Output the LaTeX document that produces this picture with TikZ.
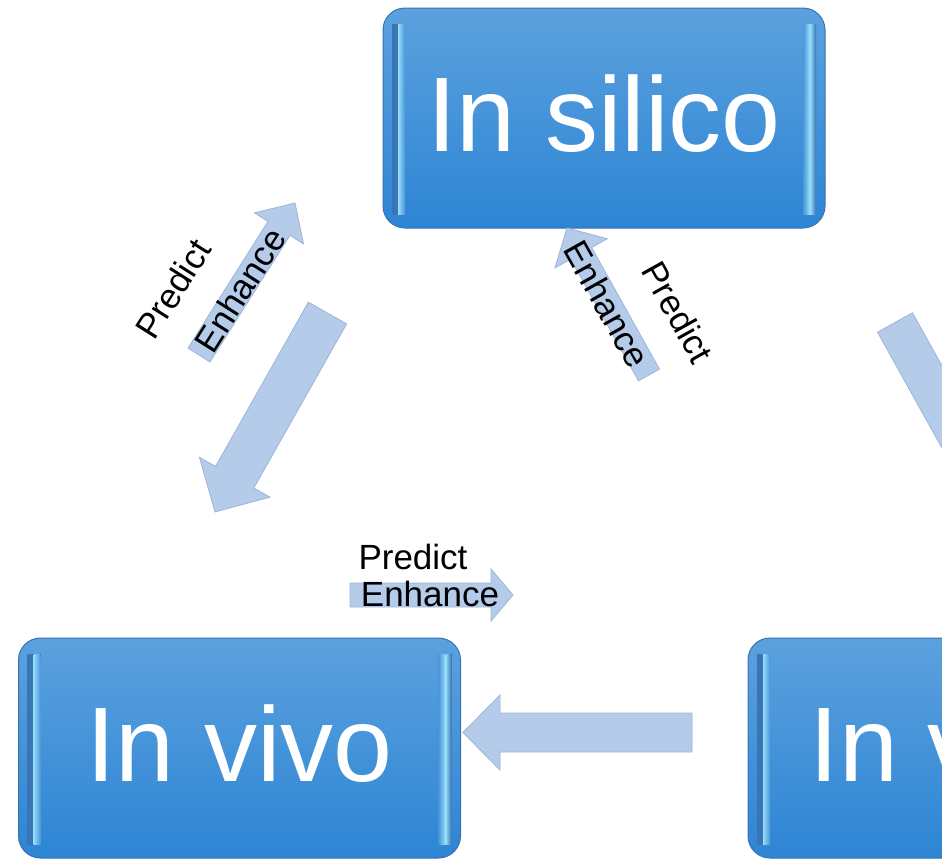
\documentclass[tikz,border=0pt]{standalone}
\usepackage{fontspec}
\setmainfont{Liberation Sans}
\usetikzlibrary{calc}

\definecolor{stagetop}{RGB}{92,161,222}
\definecolor{stagebottom}{RGB}{45,133,212}
\definecolor{stageedge}{RGB}{55,115,180}
\definecolor{stageglow}{RGB}{150,222,250}
\definecolor{arrowfill}{RGB}{180,203,234}
\definecolor{arrowedge}{RGB}{158,181,216}

\tikzset{
  stage/.style={draw=stageedge, line width=1pt, rounded corners=22pt,
    top color=stagetop, bottom color=stagebottom,
    minimum width=442pt, minimum height=220pt, text=white,
    font=\fontsize{106}{116}\selectfont, text height=76pt, text depth=9pt,
    path picture={
      \fill[sharp corners, left color=stageedge, right color=stageglow]
        ([xshift=9pt,yshift=-16pt]path picture bounding box.north west)
        rectangle ([xshift=15pt,yshift=14pt]path picture bounding box.south west);
      \fill[sharp corners, left color=stageglow, right color=stagetop!60!stagebottom]
        ([xshift=15pt,yshift=-16pt]path picture bounding box.north west)
        rectangle ([xshift=22pt,yshift=14pt]path picture bounding box.south west);
      \fill[sharp corners, left color=stagetop!60!stagebottom, right color=stageglow]
        ([xshift=-22pt,yshift=-16pt]path picture bounding box.north east)
        rectangle ([xshift=-15pt,yshift=14pt]path picture bounding box.south east);
      \fill[sharp corners, left color=stageglow, right color=stageedge]
        ([xshift=-15pt,yshift=-16pt]path picture bounding box.north east)
        rectangle ([xshift=-9pt,yshift=14pt]path picture bounding box.south east);
    }},
  arrowbody/.style={fill=arrowfill, draw=arrowedge, line width=0.8pt, line join=miter},
  tag/.style={inner sep=0pt, font=\fontsize{35}{40}\selectfont}
}

% tail, tip, half shaft, half head, head length
\newcommand{\blockarrow}[5]{%
  \coordinate (ba-base) at ($(#2)!#5!(#1)$);
  \draw[arrowbody] ($(#1)!#3!90:(#2)$) -- ($(ba-base)!#3!90:(#2)$)
    -- ($(ba-base)!#4!90:(#2)$) -- (#2) -- ($(ba-base)!#4!-90:(#2)$)
    -- ($(ba-base)!#3!-90:(#2)$) -- ($(#1)!#3!-90:(#2)$) -- cycle;
}

\begin{document}
\begin{tikzpicture}[x=1pt, y=-1pt]
  \useasboundingbox (0,0) rectangle (942,860);
  \clip (0,0) rectangle (942,860);
  \fill[white] (0,0) rectangle (942,860);

  \node[stage] (silico) at (604,118) {In silico};
  \node[stage] (vivo) at (239.5,748) {In vivo};
  \node[stage] (vitro) at (969,748) {In vitro};

  \coordinate (vs-tail) at (199,355);   \coordinate (vs-tip) at (295,203);
  \coordinate (xs-tail) at (649,375);   \coordinate (xs-tip) at (567,228);
  \coordinate (vx-tail) at (350,595);   \coordinate (vx-tip) at (513,595);
  \coordinate (sv-tail) at (327.5,313); \coordinate (sv-tip) at (215,512);
  \coordinate (xv-tail) at (692,732.5); \coordinate (xv-tip) at (463,732.5);
  \coordinate (sx-tail) at (895,322.5); \coordinate (sx-tip) at (1006,522);

  \foreach \src/\dst/\shaft/\head/\len in {vs-tail/vs-tip/13pt/29pt/30pt,
      xs-tail/xs-tip/12pt/30pt/29pt, vx-tail/vx-tip/12pt/26pt/22pt,
      sv-tail/sv-tip/22pt/40.5pt/40pt, xv-tail/xv-tip/19.5pt/37.5pt/37pt,
      sx-tail/sx-tip/20pt/40pt/40pt}
    \blockarrow{\src}{\dst}{\shaft}{\head}{\len};

  \node[tag, rotate=57.7] (vs-predict) at (173,289) {Predict};
  \node[tag, rotate=57.7] (vs-enhance) at (240,290) {Enhance};
  \node[tag, rotate=-60.8] (xs-enhance) at (607,304) {Enhance};
  \node[tag, rotate=-60.8] (xs-predict) at (678,312) {Predict};
  \node[tag] (vx-predict) at (413,557) {Predict};
  \node[tag] (vx-enhance) at (430,594) {Enhance};
\end{tikzpicture}
\end{document}
